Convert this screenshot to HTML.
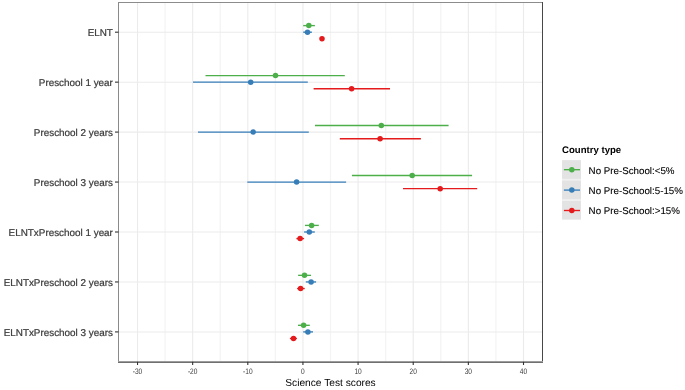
<!DOCTYPE html>
<html><head><meta charset="utf-8"><style>
html,body{margin:0;padding:0;background:#fff;width:685px;height:390px;overflow:hidden}
svg{display:block;font-family:"Liberation Sans",Arial,sans-serif;text-rendering:geometricPrecision}
</style></head><body>
<svg width="685" height="390" viewBox="0 0 685 390">
<rect x="0" y="0" width="685" height="390" fill="#fff"/>
<line x1="165.09" y1="2.5" x2="165.09" y2="361.8" stroke="#F4F4F4" stroke-width="1.3"/>
<line x1="220.23" y1="2.5" x2="220.23" y2="361.8" stroke="#F4F4F4" stroke-width="1.3"/>
<line x1="275.37" y1="2.5" x2="275.37" y2="361.8" stroke="#F4F4F4" stroke-width="1.3"/>
<line x1="330.51" y1="2.5" x2="330.51" y2="361.8" stroke="#F4F4F4" stroke-width="1.3"/>
<line x1="385.65" y1="2.5" x2="385.65" y2="361.8" stroke="#F4F4F4" stroke-width="1.3"/>
<line x1="440.79" y1="2.5" x2="440.79" y2="361.8" stroke="#F4F4F4" stroke-width="1.3"/>
<line x1="495.93" y1="2.5" x2="495.93" y2="361.8" stroke="#F4F4F4" stroke-width="1.3"/>
<line x1="137.52" y1="2.5" x2="137.52" y2="361.8" stroke="#EBEBEB" stroke-width="1.1"/>
<line x1="192.66" y1="2.5" x2="192.66" y2="361.8" stroke="#EBEBEB" stroke-width="1.1"/>
<line x1="247.80" y1="2.5" x2="247.80" y2="361.8" stroke="#EBEBEB" stroke-width="1.1"/>
<line x1="302.94" y1="2.5" x2="302.94" y2="361.8" stroke="#EBEBEB" stroke-width="1.1"/>
<line x1="358.08" y1="2.5" x2="358.08" y2="361.8" stroke="#EBEBEB" stroke-width="1.1"/>
<line x1="413.22" y1="2.5" x2="413.22" y2="361.8" stroke="#EBEBEB" stroke-width="1.1"/>
<line x1="468.36" y1="2.5" x2="468.36" y2="361.8" stroke="#EBEBEB" stroke-width="1.1"/>
<line x1="523.50" y1="2.5" x2="523.50" y2="361.8" stroke="#EBEBEB" stroke-width="1.1"/>
<line x1="118.5" y1="32.20" x2="542.5" y2="32.20" stroke="#EBEBEB" stroke-width="1.05"/>
<line x1="118.5" y1="82.15" x2="542.5" y2="82.15" stroke="#EBEBEB" stroke-width="1.05"/>
<line x1="118.5" y1="132.10" x2="542.5" y2="132.10" stroke="#EBEBEB" stroke-width="1.05"/>
<line x1="118.5" y1="182.05" x2="542.5" y2="182.05" stroke="#EBEBEB" stroke-width="1.05"/>
<line x1="118.5" y1="232.00" x2="542.5" y2="232.00" stroke="#EBEBEB" stroke-width="1.05"/>
<line x1="118.5" y1="281.95" x2="542.5" y2="281.95" stroke="#EBEBEB" stroke-width="1.05"/>
<line x1="118.5" y1="331.90" x2="542.5" y2="331.90" stroke="#EBEBEB" stroke-width="1.05"/>
<line x1="303.2" y1="25.60" x2="314.9" y2="25.60" stroke="#4DAF4A" stroke-width="1.35"/>
<circle cx="308.8" cy="25.60" r="2.75" fill="#4DAF4A"/>
<line x1="303.2" y1="32.20" x2="311.9" y2="32.20" stroke="#377EB8" stroke-width="1.35"/>
<circle cx="307.5" cy="32.20" r="2.75" fill="#377EB8"/>
<line x1="321.0" y1="38.80" x2="323.0" y2="38.80" stroke="#E41A1C" stroke-width="1.35"/>
<circle cx="322.0" cy="38.80" r="2.75" fill="#E41A1C"/>
<line x1="205.5" y1="75.55" x2="344.8" y2="75.55" stroke="#4DAF4A" stroke-width="1.35"/>
<circle cx="275.5" cy="75.55" r="2.75" fill="#4DAF4A"/>
<line x1="193.0" y1="82.15" x2="307.8" y2="82.15" stroke="#377EB8" stroke-width="1.35"/>
<circle cx="250.7" cy="82.15" r="2.75" fill="#377EB8"/>
<line x1="313.6" y1="88.75" x2="390.0" y2="88.75" stroke="#E41A1C" stroke-width="1.35"/>
<circle cx="351.6" cy="88.75" r="2.75" fill="#E41A1C"/>
<line x1="315.0" y1="125.50" x2="448.6" y2="125.50" stroke="#4DAF4A" stroke-width="1.35"/>
<circle cx="381.3" cy="125.50" r="2.75" fill="#4DAF4A"/>
<line x1="198.0" y1="132.10" x2="308.8" y2="132.10" stroke="#377EB8" stroke-width="1.35"/>
<circle cx="253.2" cy="132.10" r="2.75" fill="#377EB8"/>
<line x1="339.8" y1="138.70" x2="420.9" y2="138.70" stroke="#E41A1C" stroke-width="1.35"/>
<circle cx="380.1" cy="138.70" r="2.75" fill="#E41A1C"/>
<line x1="351.9" y1="175.45" x2="472.1" y2="175.45" stroke="#4DAF4A" stroke-width="1.35"/>
<circle cx="412.2" cy="175.45" r="2.75" fill="#4DAF4A"/>
<line x1="247.3" y1="182.05" x2="346.1" y2="182.05" stroke="#377EB8" stroke-width="1.35"/>
<circle cx="296.6" cy="182.05" r="2.75" fill="#377EB8"/>
<line x1="403.0" y1="188.65" x2="477.2" y2="188.65" stroke="#E41A1C" stroke-width="1.35"/>
<circle cx="440.2" cy="188.65" r="2.75" fill="#E41A1C"/>
<line x1="305.0" y1="225.40" x2="318.8" y2="225.40" stroke="#4DAF4A" stroke-width="1.35"/>
<circle cx="311.6" cy="225.40" r="2.75" fill="#4DAF4A"/>
<line x1="304.1" y1="232.00" x2="314.8" y2="232.00" stroke="#377EB8" stroke-width="1.35"/>
<circle cx="309.3" cy="232.00" r="2.75" fill="#377EB8"/>
<line x1="296.4" y1="238.60" x2="304.1" y2="238.60" stroke="#E41A1C" stroke-width="1.35"/>
<circle cx="300.1" cy="238.60" r="2.75" fill="#E41A1C"/>
<line x1="298.1" y1="275.35" x2="311.0" y2="275.35" stroke="#4DAF4A" stroke-width="1.35"/>
<circle cx="304.5" cy="275.35" r="2.75" fill="#4DAF4A"/>
<line x1="305.8" y1="281.95" x2="316.1" y2="281.95" stroke="#377EB8" stroke-width="1.35"/>
<circle cx="311.1" cy="281.95" r="2.75" fill="#377EB8"/>
<line x1="297.1" y1="288.55" x2="304.7" y2="288.55" stroke="#E41A1C" stroke-width="1.35"/>
<circle cx="300.6" cy="288.55" r="2.75" fill="#E41A1C"/>
<line x1="298.0" y1="325.30" x2="309.8" y2="325.30" stroke="#4DAF4A" stroke-width="1.35"/>
<circle cx="303.6" cy="325.30" r="2.75" fill="#4DAF4A"/>
<line x1="303.2" y1="331.90" x2="313.0" y2="331.90" stroke="#377EB8" stroke-width="1.35"/>
<circle cx="307.9" cy="331.90" r="2.75" fill="#377EB8"/>
<line x1="289.9" y1="338.50" x2="296.9" y2="338.50" stroke="#E41A1C" stroke-width="1.35"/>
<circle cx="293.5" cy="338.50" r="2.75" fill="#E41A1C"/>
<g shape-rendering="crispEdges">
<rect x="118" y="2" width="1" height="360" fill="#8a8a8a"/>
<rect x="118" y="2" width="425" height="1" fill="#8c8c8c"/>
<rect x="542" y="2" width="1" height="361" fill="#474747"/>
<rect x="118" y="361" width="425" height="1" fill="#9c9c9c"/>
<rect x="118" y="362" width="425" height="1" fill="#707070"/>
</g>
<line x1="137.52" y1="361.8" x2="137.52" y2="365.0" stroke="#333" stroke-width="1.1"/>
<text transform="translate(137.52,374) scale(1,1.2)" font-size="6.6" fill="#3A3A3A" text-anchor="middle">-30</text>
<line x1="192.66" y1="361.8" x2="192.66" y2="365.0" stroke="#333" stroke-width="1.1"/>
<text transform="translate(192.66,374) scale(1,1.2)" font-size="6.6" fill="#3A3A3A" text-anchor="middle">-20</text>
<line x1="247.80" y1="361.8" x2="247.80" y2="365.0" stroke="#333" stroke-width="1.1"/>
<text transform="translate(247.80,374) scale(1,1.2)" font-size="6.6" fill="#3A3A3A" text-anchor="middle">-10</text>
<line x1="302.94" y1="361.8" x2="302.94" y2="365.0" stroke="#333" stroke-width="1.1"/>
<text transform="translate(302.94,374) scale(1,1.2)" font-size="6.6" fill="#3A3A3A" text-anchor="middle">0</text>
<line x1="358.08" y1="361.8" x2="358.08" y2="365.0" stroke="#333" stroke-width="1.1"/>
<text transform="translate(358.08,374) scale(1,1.2)" font-size="6.6" fill="#3A3A3A" text-anchor="middle">10</text>
<line x1="413.22" y1="361.8" x2="413.22" y2="365.0" stroke="#333" stroke-width="1.1"/>
<text transform="translate(413.22,374) scale(1,1.2)" font-size="6.6" fill="#3A3A3A" text-anchor="middle">20</text>
<line x1="468.36" y1="361.8" x2="468.36" y2="365.0" stroke="#333" stroke-width="1.1"/>
<text transform="translate(468.36,374) scale(1,1.2)" font-size="6.6" fill="#3A3A3A" text-anchor="middle">30</text>
<line x1="523.50" y1="361.8" x2="523.50" y2="365.0" stroke="#333" stroke-width="1.1"/>
<text transform="translate(523.50,374) scale(1,1.2)" font-size="6.6" fill="#3A3A3A" text-anchor="middle">40</text>
<line x1="115.0" y1="32.20" x2="118.5" y2="32.20" stroke="#333" stroke-width="1.1"/>
<text transform="translate(112.9,36) scale(1,1.0)" font-size="9.9" fill="#3A3A3A" stroke="#3A3A3A" stroke-width="0.22" text-anchor="end">ELNT</text>
<line x1="115.0" y1="82.15" x2="118.5" y2="82.15" stroke="#333" stroke-width="1.1"/>
<text transform="translate(112.9,86) scale(1,1.0)" font-size="9.9" fill="#3A3A3A" stroke="#3A3A3A" stroke-width="0.22" text-anchor="end">Preschool 1 year</text>
<line x1="115.0" y1="132.10" x2="118.5" y2="132.10" stroke="#333" stroke-width="1.1"/>
<text transform="translate(112.9,136) scale(1,1.0)" font-size="9.9" fill="#3A3A3A" stroke="#3A3A3A" stroke-width="0.22" text-anchor="end">Preschool 2 years</text>
<line x1="115.0" y1="182.05" x2="118.5" y2="182.05" stroke="#333" stroke-width="1.1"/>
<text transform="translate(112.9,186) scale(1,1.0)" font-size="9.9" fill="#3A3A3A" stroke="#3A3A3A" stroke-width="0.22" text-anchor="end">Preschool 3 years</text>
<line x1="115.0" y1="232.00" x2="118.5" y2="232.00" stroke="#333" stroke-width="1.1"/>
<text transform="translate(112.9,236) scale(1,1.0)" font-size="9.9" fill="#3A3A3A" stroke="#3A3A3A" stroke-width="0.22" text-anchor="end">ELNTxPreschool 1 year</text>
<line x1="115.0" y1="281.95" x2="118.5" y2="281.95" stroke="#333" stroke-width="1.1"/>
<text transform="translate(112.9,286) scale(1,1.0)" font-size="9.9" fill="#3A3A3A" stroke="#3A3A3A" stroke-width="0.22" text-anchor="end">ELNTxPreschool 2 years</text>
<line x1="115.0" y1="331.90" x2="118.5" y2="331.90" stroke="#333" stroke-width="1.1"/>
<text transform="translate(112.9,336) scale(1,1.0)" font-size="9.9" fill="#3A3A3A" stroke="#3A3A3A" stroke-width="0.22" text-anchor="end">ELNTxPreschool 3 years</text>
<text transform="translate(330.50,386) scale(1,1.0)" font-size="10.2" fill="#000" text-anchor="middle">Science Test scores</text>
<text transform="translate(562,153) scale(1,1.0)" font-size="9.6" font-weight="bold" fill="#000">Country type</text>
<rect x="562.1" y="160.2" width="18.9" height="59" fill="#F0F0F0"/>
<rect x="562.1" y="160.20" width="18.9" height="18.6" fill="#E3E3E3"/>
<line x1="563.9" y1="169.70" x2="580" y2="169.70" stroke="#4DAF4A" stroke-width="1.35"/>
<circle cx="571.8" cy="169.70" r="2.75" fill="#4DAF4A"/>
<text transform="translate(588.6,174.00) scale(1,1.0)" font-size="9.75" fill="#000" stroke="#000" stroke-width="0.1">No Pre-School:&lt;5%</text>
<rect x="562.1" y="180.60" width="18.9" height="18.6" fill="#E3E3E3"/>
<line x1="563.9" y1="190.10" x2="580" y2="190.10" stroke="#377EB8" stroke-width="1.35"/>
<circle cx="571.8" cy="190.10" r="2.75" fill="#377EB8"/>
<text transform="translate(588.6,194.00) scale(1,1.0)" font-size="9.75" fill="#000" stroke="#000" stroke-width="0.1">No Pre-School:5-15%</text>
<rect x="562.1" y="201.00" width="18.9" height="18.6" fill="#E3E3E3"/>
<line x1="563.9" y1="210.50" x2="580" y2="210.50" stroke="#E41A1C" stroke-width="1.35"/>
<circle cx="571.8" cy="210.50" r="2.75" fill="#E41A1C"/>
<text transform="translate(588.6,214.00) scale(1,1.0)" font-size="9.75" fill="#000" stroke="#000" stroke-width="0.1">No Pre-School:&gt;15%</text>
</svg>
</body></html>
